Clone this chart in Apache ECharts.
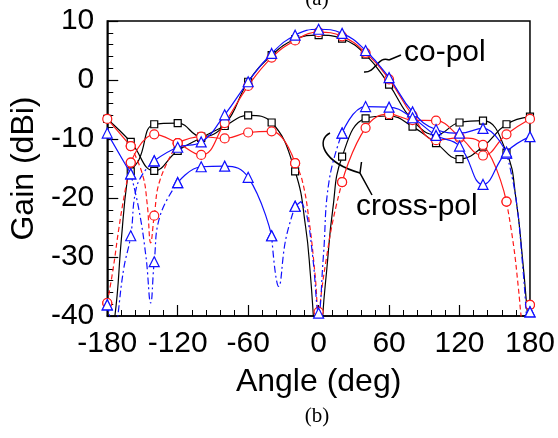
<!DOCTYPE html>
<html><head><meta charset="utf-8">
<script src="https://cdn.jsdelivr.net/npm/echarts/dist/echarts.min.js"></script>
<style>html,body{margin:0;padding:0;background:#fff}#c{width:558px;height:438px}</style>
</head><body><div id="c"></div>
<script>
// ---- data (angle in deg, gain in dBi); markers drawn at every 20 deg ----
const xRange = [-180, 180];
const yRange = [-40, 10];
const blackCo = [[-180,-46],[-173.5,-40],[-168,-27],[-163,-17],[-160,-15.5],[-153,-13.5],[-140,-7.5],[-120,-7.3],[-100,-9.6],[-80,-7.6],[-60,-0.3],[-40,4.2],[-20,6.9],[0,7.6],[20,7.0],[40,4.3],[60,-0.8],[80,-6.8],[100,-9.3],[120,-7.2],[140,-6.9],[160,-12.3],[168,-20],[174,-31],[178,-40],[180,-44]];
const blackCross = [[-180,-6.6],[-160,-10.5],[-140,-15.4],[-120,-12.0],[-100,-9.8],[-80,-7.8],[-60,-6.0],[-40,-7.2],[-20,-15.5],[-11,-25],[-7,-33],[-4.5,-40],[0,-55],[3.5,-40],[7,-32],[12,-22],[20,-13.0],[40,-6.5],[60,-6.1],[80,-7.9],[100,-10.7],[120,-13.4],[140,-11.3],[160,-7.5],[180,-6.2]];
const redCo = [[-180,-37.8],[-175,-32],[-170,-25],[-165,-19],[-160,-14.0],[-140,-9.2],[-120,-10.7],[-100,-12.7],[-80,-7.3],[-60,-1.0],[-40,3.8],[-20,6.7],[0,8.1],[20,7.4],[40,4.6],[60,0.1],[80,-6.0],[100,-10.2],[120,-9.8],[140,-11.0],[160,-20.6],[166,-28],[170,-35],[173,-41],[176,-45],[180,-38.1]];
const redCross = [[-180,-6.6],[-160,-11.2],[-150,-16],[-146,-21],[-143,-27.6],[-140,-23.0],[-135,-16.9],[-120,-10.7],[-100,-9.6],[-80,-9.9],[-60,-8.9],[-40,-8.7],[-20,-14.1],[-14,-17],[-8,-24],[-3,-33],[0,-39.3],[3,-35],[6,-31],[12,-24],[20,-17.3],[40,-8.1],[60,-5.8],[80,-6.8],[100,-6.9],[120,-9.6],[140,-12.8],[160,-9.2],[180,-6.6]];
const blueCo = [[-180,-38.1],[-177,-41],[-174,-45],[-171,-40],[-166,-32],[-160,-26.4],[-156,-19],[-150,-16],[-140,-13.7],[-120,-11.4],[-100,-10.5],[-80,-5.9],[-60,-0.3],[-40,4.5],[-20,7.6],[0,8.6],[20,7.9],[40,5.0],[60,0.4],[80,-5.4],[100,-8.4],[120,-9.0],[140,-8.2],[160,-12.4],[168,-20],[174,-32],[177,-40],[178.5,-45],[180,-39.3]];
const blueCross = [[-180,-9.0],[-160,-15.9],[-153,-22],[-147,-30],[-143,-37.8],[-140,-30.8],[-135,-23],[-120,-17.4],[-100,-14.7],[-80,-14.6],[-60,-16.5],[-40,-26.4],[-34,-35],[-28,-27],[-20,-21.4],[-15,-20.6],[-10,-23],[-5,-30],[0,-39.5],[4,-30],[9,-17],[20,-9.0],[40,-4.5],[60,-4.6],[80,-6.4],[100,-9.4],[120,-11.2],[140,-17.7],[160,-12.2],[180,-9.6]];
// angle ranges drawn with the broken line style
const redCoDash = [[-180,-160],[160,180]];
const redCrossDash = [[-160,-120],[-20,20]];
const blueCoDash = [[-180,-140],[160,180]];
const blueCrossDash = [[-160,-120],[-40,-20],[-15,20]];

const FONT = '"Liberation Sans", Arial, sans-serif';
const BLACK = '#000000', RED = '#ff1a1a', BLUE = '#1010ff';

function seriesPair(pts, dashRanges, color, symbol, size, dashType, z) {
  const strictIn = (x, r) => x > r[0] && x < r[1];
  const solid = pts.map(p => dashRanges.some(r => strictIn(p[0], r)) ? [p[0], '-'] : p);
  const dashed = [];
  dashRanges.forEach(r => {
    pts.filter(p => p[0] >= r[0] && p[0] <= r[1]).forEach(p => dashed.push(p));
    dashed.push([r[1], '-']);
  });
  const base = {
    type: 'line', smooth: 0.45, connectNulls: false, clip: true, silent: true,
    symbol: v => (Array.isArray(v) && v[0] % 20 === 0 ? symbol : 'none'),
    symbolSize: size,
    itemStyle: { color: '#fff', borderColor: color, borderWidth: 1.2 },
    emphasis: { disabled: true }, z
  };
  const out = [Object.assign({}, base, { data: solid, lineStyle: { color, width: 1.2, type: 'solid' } })];
  if (dashRanges.length) out.push(Object.assign({}, base, { data: dashed, lineStyle: { color, width: 1.2, type: dashType } }));
  return out;
}

const series = [].concat(
  seriesPair(blackCo, [], BLACK, 'rect', 7, 'solid', 2),
  seriesPair(blackCross, [], BLACK, 'rect', 7, 'solid', 2),
  seriesPair(redCo, redCoDash, RED, 'circle', 9, [5, 3], 3),
  seriesPair(redCross, redCrossDash, RED, 'circle', 9, [5, 3], 3),
  seriesPair(blueCo, blueCoDash, BLUE, 'triangle', 10, [7, 3, 2, 3], 4),
  seriesPair(blueCross, blueCrossDash, BLUE, 'triangle', 10, [7, 3, 2, 3], 4)
);

const chart = echarts.init(document.getElementById('c'), null, { renderer: 'canvas' });
const LS = { stroke: '#000', lineWidth: 1.5, fill: null };
chart.setOption({
  animation: false,
  backgroundColor: '#ffffff',
  grid: { left: 105, right: 28, top: 21, bottom: 122, show: true, borderColor: '#000', borderWidth: 1.5, backgroundColor: 'transparent' },
  xAxis: {
    type: 'value', min: xRange[0], max: xRange[1], interval: 60,
    axisLine: { show: true, onZero: false, lineStyle: { color: '#000', width: 1.5 } },
    axisTick: { show: true, inside: true, length: 11, lineStyle: { color: '#000', width: 1.2 } },
    minorTick: { show: true, splitNumber: 5, length: 6, lineStyle: { color: '#000', width: 1 } },
    splitLine: { show: false },
    axisLabel: { color: '#000', fontSize: 30, fontFamily: FONT, margin: 13 },
    name: 'Angle (deg)', nameLocation: 'middle', nameGap: 50,
    nameTextStyle: { color: '#000', fontSize: 32, fontFamily: FONT }
  },
  yAxis: {
    type: 'value', min: yRange[0], max: yRange[1], interval: 10,
    axisLine: { show: true, onZero: false, lineStyle: { color: '#000', width: 1.5 } },
    axisTick: { show: true, inside: true, length: 11, lineStyle: { color: '#000', width: 1.2 } },
    minorTick: { show: true, splitNumber: 5, length: 6, lineStyle: { color: '#000', width: 1 } },
    splitLine: { show: false },
    axisLabel: { color: '#000', fontSize: 30, fontFamily: FONT, margin: 13 },
    name: 'Gain (dBi)', nameLocation: 'middle', nameGap: 58, nameRotate: 90,
    nameTextStyle: { color: '#000', fontSize: 32, fontFamily: FONT }
  },
  series,
  graphic: [
    { type: 'text', x: 404, y: 38, silent: true, style: { text: 'co-pol', fill: '#000', font: '30px ' + FONT } },
    { type: 'line', silent: true, shape: { x1: 401, y1: 55, x2: 389, y2: 60 }, style: LS },
    { type: 'bezierCurve', silent: true, shape: { x1: 389, y1: 60, cpx1: 378, cpy1: 55, cpx2: 376, cpy2: 73, x2: 364, y2: 72 }, style: LS },
    { type: 'text', x: 356, y: 192, silent: true, style: { text: 'cross-pol', fill: '#000', font: '30px ' + FONT } },
    { type: 'bezierCurve', silent: true, shape: { x1: 330, y1: 133, cpx1: 316, cpy1: 140, cpx2: 322, cpy2: 162, x2: 360, y2: 173 }, style: LS },
    { type: 'polyline', silent: true, shape: { points: [[361.5, 162], [360, 173], [372, 195]] }, style: LS },
    { type: 'text', x: 317, y: 10, silent: true, style: { text: '(a)', fill: '#000', font: '21px "Liberation Serif", "Times New Roman", serif', align: 'center', verticalAlign: 'bottom' } },
    { type: 'text', x: 317, y: 416, silent: true, style: { text: '(b)', fill: '#000', font: '21px "Liberation Serif", "Times New Roman", serif', align: 'center', verticalAlign: 'middle' } }
  ]
});
</script>
</body></html>
